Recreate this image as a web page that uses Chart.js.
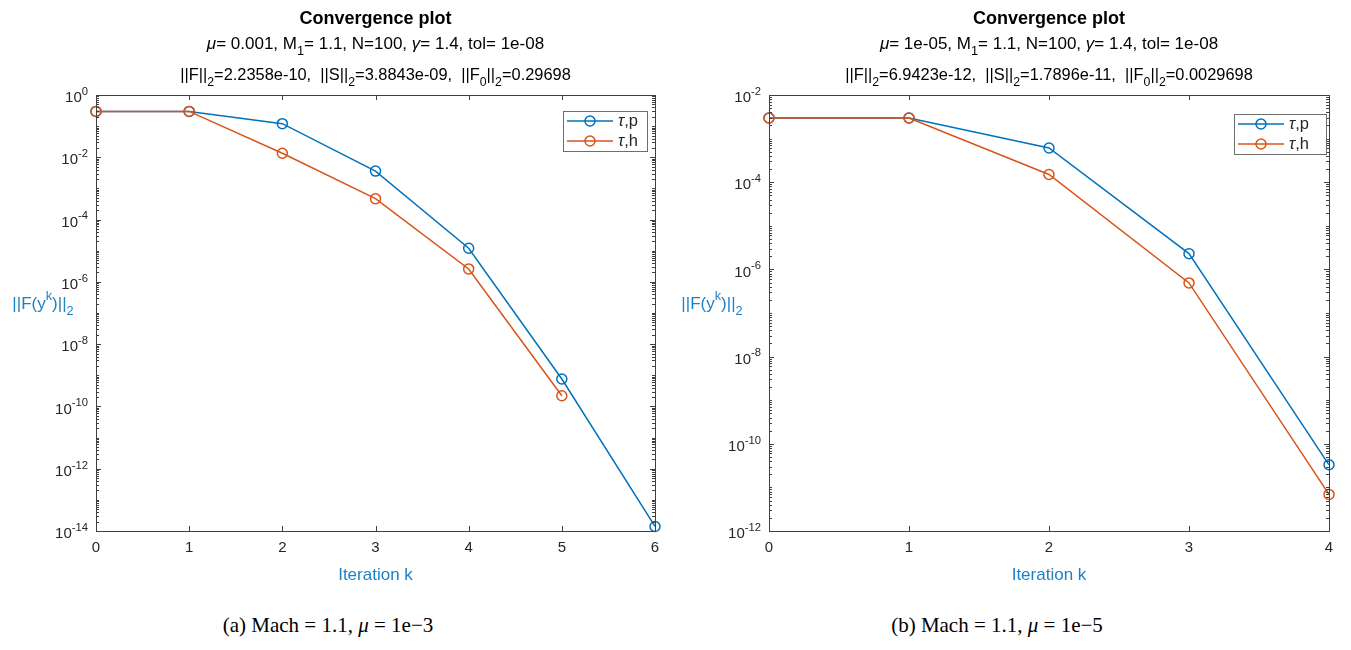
<!DOCTYPE html>
<html>
<head>
<meta charset="utf-8">
<script src="https://cdn.jsdelivr.net/npm/chart.js@4.4.0/dist/chart.umd.min.js"></script>
<style>
  body { margin: 0; background: #fff; width: 1351px; height: 650px; overflow: hidden; position: relative; }
  .plot { position: absolute; top: 0; }
  .cap { position: absolute; top: 613px; font-family: "Liberation Serif", serif; font-size: 21px; color: #000; white-space: nowrap; transform: translateX(-50%); }
</style>
</head>
<body>
<div class="plot" style="left:0"><canvas id="chartA" width="675" height="600"></canvas></div>
<div class="plot" style="left:675px"><canvas id="chartB" width="676" height="600"></canvas></div>
<div class="cap" style="left:328px">(a) Mach = 1.1, <i>μ</i> = 1e−3</div>
<div class="cap" style="left:997px">(b) Mach = 1.1, <i>μ</i> = 1e−5</div>

<script>
// left plot, mu = 1e-3
const iterA = [0, 1, 2, 3, 4, 5, 6];
const tauPA = [0.29698, 0.29698, 0.12, 3.6e-3, 1.2e-5, 7.6e-10, 1.4e-14];
const tauHA = [0.29698, 0.29698, 0.0135, 4.7e-4, 2.6e-6, 2.2e-10];
const yTicksA = [1e-14, 1e-12, 1e-10, 1e-8, 1e-6, 1e-4, 1e-2, 1];

// right plot, mu = 1e-5
const iterB = [0, 1, 2, 3, 4];
const tauPB = [2.9698e-3, 2.9698e-3, 6.1e-4, 2.3e-6, 3.3e-11];
const tauHB = [2.9698e-3, 2.9698e-3, 1.5e-4, 4.9e-7, 6.9e-12];
const yTicksB = [1e-12, 1e-10, 1e-8, 1e-6, 1e-4, 1e-2];

const seriesNames = ['p', 'h'];
const blue = '#0072BD';
const orange = '#D95319';
const labelBlue = '#1f80c4';
const axisCol = '#404040';
const textCol = '#262626';
const fam = '"Liberation Sans", Arial, sans-serif';

// draw text made of pieces: [text, kind] kind = '', 'i', 'b', 'sub', 'sup'
function drawRich(ctx, parts, x, y, size, align, color) {
  const fontFor = k => {
    const s = (k === 'sub' || k === 'sup') ? size * 0.75 : size;
    return (k === 'i' ? 'italic ' : '') + (k === 'b' ? 'bold ' : '') + s + 'px ' + fam;
  };
  let w = 0;
  parts.forEach(p => { ctx.font = fontFor(p[1]); w += ctx.measureText(p[0]).width; });
  let cx = align === 'center' ? x - w / 2 : align === 'right' ? x - w : x;
  ctx.fillStyle = color;
  ctx.textBaseline = 'middle';
  ctx.textAlign = 'left';
  parts.forEach(p => {
    ctx.font = fontFor(p[1]);
    const dy = p[1] === 'sub' ? size * 0.45 : p[1] === 'sup' ? -size * 0.42 : 0;
    ctx.fillText(p[0], cx, y + dy);
    cx += ctx.measureText(p[0]).width;
  });
}

const matlabLook = {
  id: 'matlabLook',
  afterDraw(chart) {
    const o = chart.options.plugins.matlabLook;
    const ctx = chart.ctx;
    const a = chart.chartArea;
    const xs = chart.scales.x, ys = chart.scales.y;
    ctx.save();

    // box
    ctx.strokeStyle = axisCol;
    ctx.lineWidth = 1;
    ctx.strokeRect(Math.round(a.left) + 0.5, Math.round(a.top) + 0.5, Math.round(a.width), Math.round(a.height));

    // x ticks, inward, bottom and top
    ctx.beginPath();
    xs.ticks.forEach(t => {
      const px = Math.round(xs.getPixelForValue(t.value)) + 0.5;
      ctx.moveTo(px, a.bottom); ctx.lineTo(px, a.bottom - 5);
      ctx.moveTo(px, a.top); ctx.lineTo(px, a.top + 5);
    });
    // y ticks: major at labelled decades, minor elsewhere
    const lo = Math.round(Math.log10(ys.min)), hi = Math.round(Math.log10(ys.max));
    for (let e = lo; e <= hi; e++) {
      for (let m = 1; m <= 9; m++) {
        const v = m * Math.pow(10, e);
        if (v > ys.max * 1.0001) continue;
        const py = Math.round(ys.getPixelForValue(v)) + 0.5;
        const major = m === 1 && o.yTicks.some(t => Math.abs(Math.log10(t) - e) < 0.01);
        const len = major ? 5 : 3;
        ctx.moveTo(a.left, py); ctx.lineTo(a.left + len, py);
        ctx.moveTo(a.right, py); ctx.lineTo(a.right - len, py);
      }
    }
    ctx.stroke();

    // y tick labels 10^n
    o.yTicks.forEach(t => {
      const e = Math.round(Math.log10(t));
      const py = ys.getPixelForValue(t);
      drawRich(ctx, [['10', ''], [String(e), 'sup']], a.left - 8, py + 3, 15, 'right', textCol);
    });

    // y label
    drawRich(ctx, [['||F(y', ''], ['k', 'sup'], [')||', ''], ['2', 'sub']], o.yLabelX, 304, 17, 'center', labelBlue);

    // title
    const cx = (a.left + a.right) / 2;
    drawRich(ctx, [['Convergence plot', 'b']], cx, 19, 18, 'center', '#000');
    drawRich(ctx, o.title2, cx, 44, 17, 'center', '#000');
    drawRich(ctx, o.title3, cx, 75, 16.4, 'center', '#000');

    // legend
    const lg = o.legend;
    const bx = a.right - lg.right - lg.w, by = a.top + lg.top;
    ctx.fillStyle = '#fff';
    ctx.fillRect(bx, by, lg.w, 40);
    ctx.strokeStyle = '#6e6e6e';
    ctx.strokeRect(Math.round(bx) + 0.5, Math.round(by) + 0.5, lg.w, 40);
    chart.data.datasets.forEach((ds, i) => {
      const ry = by + 10 + i * 20;
      ctx.strokeStyle = ds.borderColor;
      ctx.lineWidth = 1.5;
      ctx.beginPath();
      ctx.moveTo(bx + 4, ry); ctx.lineTo(bx + 50, ry);
      ctx.stroke();
      ctx.beginPath();
      ctx.arc(bx + 27, ry, 5, 0, Math.PI * 2);
      ctx.stroke();
      drawRich(ctx, [['τ', 'i'], [',' + seriesNames[i], '']], bx + 55, ry, 16.5, 'left', textCol);
    });
    ctx.restore();
  }
};

function makeChart(id, iters, pVals, hVals, yTicks, extra) {
  const pts = vals => vals.map((v, i) => ({ x: iters[i], y: v }));
  const lineStyle = col => ({
    borderColor: col,
    backgroundColor: col,
    borderWidth: 1.5,
    pointRadius: 5,
    pointHoverRadius: 5,
    pointBorderWidth: 1.5,
    pointBackgroundColor: 'rgba(0,0,0,0)',
    pointBorderColor: col,
    tension: 0,
    clip: false
  });
  return new Chart(document.getElementById(id), {
    type: 'line',
    data: {
      datasets: [
        Object.assign({ label: 'τ,p', data: pts(pVals), order: 1 }, lineStyle(blue)),
        Object.assign({ label: 'τ,h', data: pts(hVals), order: 0 }, lineStyle(orange))
      ]
    },
    options: {
      responsive: false,
      animation: false,
      layout: { padding: { top: 95, left: 0, right: extra.padRight, bottom: 0 } },
      scales: {
        x: {
          type: 'linear',
          min: iters[0],
          max: iters[iters.length - 1],
          afterBuildTicks: s => { s.ticks = iters.map(v => ({ value: v })); },
          afterFit: s => { s.height = 69; },
          grid: { display: false, drawTicks: false },
          border: { display: false },
          ticks: { color: textCol, font: { family: fam, size: 15 }, padding: 8, maxRotation: 0 },
          title: { display: true, text: 'Iteration k', color: labelBlue, font: { family: fam, size: 17 }, padding: { top: 0, bottom: 14 } }
        },
        y: {
          type: 'logarithmic',
          min: yTicks[0],
          max: yTicks[yTicks.length - 1],
          afterFit: s => { s.width = extra.yWidth; },
          grid: { display: false },
          border: { display: false },
          ticks: { display: false }
        }
      },
      plugins: {
        legend: { display: false },
        tooltip: { enabled: false },
        matlabLook: {
          yTicks: yTicks,
          yLabelX: extra.yLabelX,
          title2: extra.title2,
          title3: extra.title3,
          legend: extra.legend
        }
      }
    },
    plugins: [matlabLook]
  });
}

makeChart('chartA', iterA, tauPA, tauHA, yTicksA, {
  padRight: 20, yWidth: 96, yLabelX: 43,
  title2: [['μ', 'i'], ['= 0.001, M', ''], ['1', 'sub'], ['= 1.1, N=100, ', ''], ['γ', 'i'], ['= 1.4, tol= 1e-08', '']],
  title3: [['||F||', ''], ['2', 'sub'], ['=2.2358e-10,  ||S||', ''], ['2', 'sub'], ['=3.8843e-09,  ||F', ''], ['0', 'sub'], ['||', ''], ['2', 'sub'], ['=0.29698', '']],
  legend: { right: 8, top: 16, w: 84 }
});

makeChart('chartB', iterB, tauPB, tauHB, yTicksB, {
  padRight: 22, yWidth: 94, yLabelX: 37,
  title2: [['μ', 'i'], ['= 1e-05, M', ''], ['1', 'sub'], ['= 1.1, N=100, ', ''], ['γ', 'i'], ['= 1.4, tol= 1e-08', '']],
  title3: [['||F||', ''], ['2', 'sub'], ['=6.9423e-12,  ||S||', ''], ['2', 'sub'], ['=1.7896e-11,  ||F', ''], ['0', 'sub'], ['||', ''], ['2', 'sub'], ['=0.0029698', '']],
  legend: { right: 3, top: 19, w: 92 }
});
</script>
</body>
</html>
